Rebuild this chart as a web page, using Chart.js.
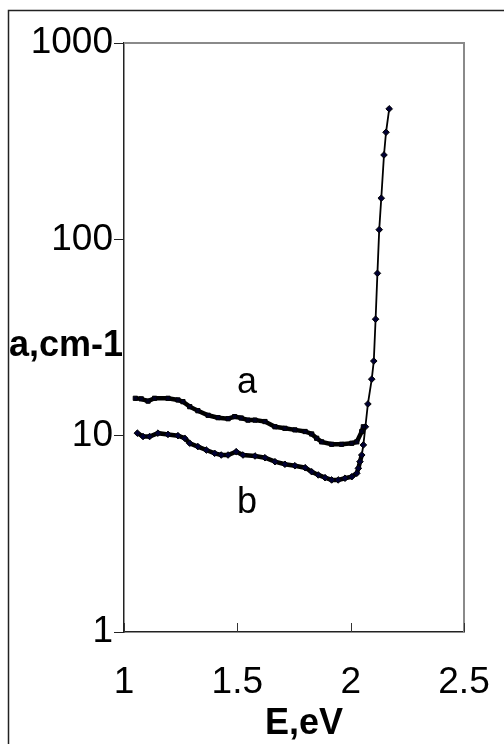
<!DOCTYPE html>
<html>
<head>
<meta charset="utf-8">
<script src="https://cdn.jsdelivr.net/npm/chart.js@4.4.0/dist/chart.umd.min.js"></script>
<style>
  html, body { margin: 0; padding: 0; background: #fff; }
  #wrap { width: 504px; height: 744px; position: relative; }
</style>
</head>
<body>
<div id="wrap"><canvas id="c"></canvas></div>
<script>
// ---- data ----
const xTicks = [1, 1.5, 2, 2.5];
const yTicks = [1, 10, 100, 1000];

const aE = [1.050, 1.076, 1.106, 1.135, 1.194, 1.238, 1.260, 1.290, 1.326, 1.371,
            1.415, 1.459, 1.488, 1.517, 1.547, 1.578, 1.622, 1.666, 1.710, 1.754,
            1.799, 1.828, 1.850, 1.872, 1.916, 1.960, 2.005, 2.027, 2.049, 2.056];
const aVal = [15.5, 15.4, 15.0, 15.5, 15.5, 15.2, 14.9, 14.05, 13.4, 12.7,
              12.35, 12.2, 12.5, 12.3, 12.0, 12.0, 11.8, 11.1, 10.9, 10.7,
              10.5, 10.2, 9.7, 9.3, 9.04, 9.04, 9.15, 9.3, 10.5, 11.1];

const bE = [1.059, 1.084, 1.113, 1.150, 1.194, 1.238, 1.268, 1.290, 1.326, 1.363,
            1.400, 1.429, 1.459, 1.495, 1.525, 1.578, 1.622, 1.666, 1.710, 1.754,
            1.799, 1.828, 1.857, 1.887, 1.916, 1.945, 1.975, 2.005, 2.027, 2.034,
            2.041, 2.049, 2.056, 2.065, 2.076, 2.093, 2.102, 2.110, 2.118, 2.126,
            2.135, 2.147, 2.156, 2.170];
const bVal = [10.3, 9.9, 9.9, 10.3, 10.15, 10.0, 9.7, 9.15, 8.8, 8.45,
              8.13, 7.97, 7.97, 8.29, 7.97, 7.88, 7.72, 7.37, 7.15, 7.03,
              6.87, 6.55, 6.31, 6.11, 5.95, 5.95, 6.07, 6.18, 6.43, 6.82,
              7.37, 7.97, 8.97, 11.1, 14.5, 19.4, 24.0, 39.2, 67.1, 112,
              162, 269, 351, 462];

const seriesLabels = ['a', 'b'];
const xTitle = 'E,eV';
const yTitle = 'a,cm-1';

const toXY = (xs, ys) => xs.map((x, i) => ({ x: x, y: ys[i] }));

// ---- decorations drawn with the chart's own scales ----
const decor = {
  id: 'decor',
  afterDraw(chart) {
    const ctx = chart.ctx;
    const ca = chart.chartArea;
    const xs = chart.scales.x, ys = chart.scales.y;
    ctx.save();
    // outer frame (left + top visible)
    ctx.strokeStyle = '#222';
    ctx.lineWidth = 1.5;
    ctx.beginPath();
    ctx.moveTo(8.5, 744);
    ctx.lineTo(8.5, 10.5);
    ctx.lineTo(504, 10.5);
    ctx.stroke();
    // plot area top/right border (grey)
    ctx.strokeStyle = '#8a8a8a';
    ctx.lineWidth = 2;
    ctx.beginPath();
    ctx.moveTo(ca.left, ca.top);
    ctx.lineTo(ca.right, ca.top);
    ctx.lineTo(ca.right, ca.bottom);
    ctx.stroke();
    // inward x ticks
    ctx.strokeStyle = '#333';
    ctx.lineWidth = 1;
    xTicks.forEach(v => {
      const px = Math.round(xs.getPixelForValue(v)) + 0.5;
      ctx.beginPath();
      ctx.moveTo(px, ca.bottom);
      ctx.lineTo(px, ca.bottom - 9);
      ctx.stroke();
    });
    // series labels
    ctx.fillStyle = '#000';
    ctx.font = '36px "Liberation Sans", Arial, sans-serif';
    ctx.textAlign = 'center';
    ctx.textBaseline = 'alphabetic';
    ctx.fillText(seriesLabels[0], xs.getPixelForValue(1.543), ys.getPixelForValue(16.5));
    ctx.fillText(seriesLabels[1], xs.getPixelForValue(1.543), ys.getPixelForValue(4.04));
    // axis titles
    ctx.font = 'bold 36px "Liberation Sans", Arial, sans-serif';
    ctx.textAlign = 'left';
    ctx.textBaseline = 'alphabetic';
    ctx.fillText(yTitle, 9, 356);
    ctx.textAlign = 'center';
    ctx.fillText(xTitle, 304, 734);
    ctx.restore();
  }
};

new Chart(document.getElementById('c'), {
  type: 'line',
  data: {
    datasets: [
      {
        label: seriesLabels[0],
        data: toXY(aE, aVal),
        borderColor: '#000',
        backgroundColor: '#000022',
        borderWidth: 4.5,
        pointStyle: 'rect',
        pointRadius: 3,
        pointBorderWidth: 1,
        pointBorderColor: '#000',
        tension: 0
      },
      {
        label: seriesLabels[1],
        data: toXY(bE, bVal),
        borderColor: '#000',
        backgroundColor: '#000033',
        borderWidth: 4.5,
        pointStyle: 'rectRot',
        pointRadius: 3.3,
        pointBorderWidth: 1,
        pointBorderColor: '#000',
        tension: 0,
        segment: {
          borderWidth: c => (c.p0.parsed.x >= 2.045 ? 1.8 : 4.5)
        }
      }
    ]
  },
  options: {
    responsive: true,
    maintainAspectRatio: false,
    animation: false,
    events: [],
    layout: { padding: { top: 43, right: 40, left: 0, bottom: 0 } },
    plugins: {
      legend: { display: false },
      tooltip: { enabled: false },
      title: { display: false }
    },
    scales: {
      x: {
        type: 'linear',
        min: 1,
        max: 2.5,
        afterBuildTicks: s => { s.ticks = xTicks.map(v => ({ value: v })); },
        afterFit: s => { s.height = 112; },
        grid: { display: true, drawOnChartArea: false, drawTicks: true, tickLength: 27, tickColor: 'rgba(0,0,0,0)' },
        border: { display: true, color: '#222', width: 1.5 },
        ticks: {
          padding: 2,
          color: '#000',
          maxRotation: 0,
          autoSkip: false,
          font: { family: '"Liberation Sans", Arial, sans-serif', size: 37 },
          callback: v => String(v)
        }
      },
      y: {
        type: 'logarithmic',
        min: 1,
        max: 1000,
        afterBuildTicks: s => { s.ticks = yTicks.map(v => ({ value: v })); },
        afterFit: s => { s.width = 124; },
        grid: { display: true, drawOnChartArea: false, drawTicks: true, tickLength: 10, color: '#222', tickWidth: 1 },
        border: { display: true, color: '#222', width: 1.5 },
        ticks: {
          padding: 1,
          color: '#000',
          autoSkip: false,
          font: { family: '"Liberation Sans", Arial, sans-serif', size: 37 },
          callback: v => String(v)
        }
      }
    }
  },
  plugins: [decor]
});
</script>
</body>
</html>
